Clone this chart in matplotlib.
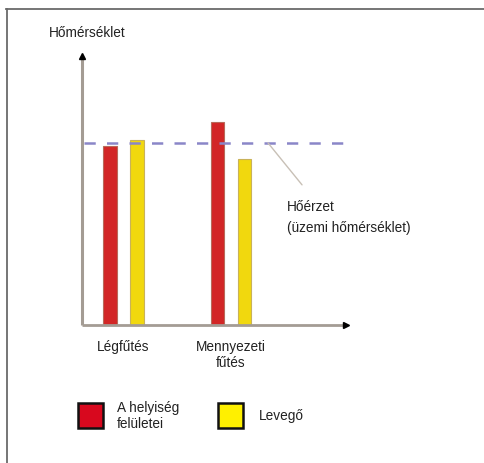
import matplotlib
matplotlib.use("Agg")
import matplotlib.pyplot as plt
from matplotlib.patches import Rectangle
from matplotlib.lines import Line2D

plt.rcParams['font.family'] = ['Liberation Sans', 'DejaVu Sans']

# Data
categories = ["Légfűtés", "Mennyezeti\nfűtés"]
surfaces = [65.6, 74.4]      # A helyiség felületei
air = [67.8, 60.8]           # Levegő
comfort_level = 66.7         # Hőérzet (üzemi hőmérséklet)
y_label = "Hőmérséklet"
series_labels = ["A helyiség\nfelületei", "Levegő"]
note_label = "Hőérzet\n(üzemi hőmérséklet)"

W, H = 484, 464
fig = plt.figure(figsize=(W / 100, H / 100), dpi=100)
fig.patch.set_facecolor("white")

def fx(px):
    return px / W

def fy(py):
    return 1 - py / H

# frame lines (top and left)
fig.add_artist(Line2D([fx(6.5), fx(6.5)], [fy(10), 0], color="#6a6a6a", lw=1.3))
fig.add_artist(Line2D([fx(6), 1], [fy(10), fy(10)], color="#6a6a6a", lw=1.3))

ax_l, ax_r, ax_t, ax_b = 82, 350, 53, 326
ax = fig.add_axes([fx(ax_l), fy(ax_b), fx(ax_r - ax_l), (ax_b - ax_t) / H])
ax.set_facecolor("none")
unit_px = 107.5
x0 = -(123.5 - ax_l) / unit_px
ax.set_xlim(x0, x0 + (ax_r - ax_l) / unit_px)
ax.set_ylim(0, 100)
for s in ax.spines.values():
    s.set_visible(False)
ax.set_yticks([])

xs = list(range(len(categories)))
bw = 0.125
off = 0.126
ax.bar([x - off for x in xs], surfaces, width=bw, color="#d22626",
       edgecolor="#b86a5a", linewidth=0.8, zorder=2)
ax.bar([x + off for x in xs], air, width=bw, color="#f1d80e",
       edgecolor="#c9b25a", linewidth=0.8, zorder=2)

# reference line
ax.axhline(comfort_level, xmin=0.006, xmax=0.988, color="#8a86c8", lw=1.8,
           dashes=(4.5, 4.5), zorder=3)

# axes with arrow heads
axis_col = "#a49c94"
ax.plot([0, 0], [0, 0.985], transform=ax.transAxes, color=axis_col, lw=2.2,
        clip_on=False, zorder=4, solid_capstyle="butt")
ax.plot([0, 0.985], [0, 0], transform=ax.transAxes, color=axis_col, lw=2.0,
        clip_on=False, zorder=4, solid_capstyle="butt")
ax.plot([0], [0.985], transform=ax.transAxes, marker="^", color="black",
        markersize=4.5, clip_on=False, zorder=5)
ax.plot([0.985], [0], transform=ax.transAxes, marker=">", color="black",
        markersize=4.5, clip_on=False, zorder=5)

ax.set_xticks(xs)
ax.set_xticklabels(categories, fontsize=9.8, color="#222222", linespacing=1.15)
ax.tick_params(axis="x", length=0, pad=10)

# leader line and note
note_x = x0 + (268 - ax_l) / unit_px
ax.annotate("", xy=(note_x, comfort_level), xytext=(24.5, -30.2),
            textcoords="offset points",
            arrowprops=dict(arrowstyle="-", color="#c8c0b6", lw=1.0,
                            shrinkA=0, shrinkB=0))
fig.text(fx(287), fy(207), note_label.split("\n")[0], fontsize=9.8,
         color="#222222", ha="left", va="center")
fig.text(fx(287), fy(228), note_label.split("\n")[1], fontsize=9.8,
         color="#222222", ha="left", va="center")

fig.text(fx(49), fy(33), y_label, fontsize=9.8, color="#222222",
         ha="left", va="center")

# legend
leg_cols = ["#d8081e", "#fff000"]
leg_x = [78, 218]
text_x = [117, 259]
for lx, tx, col, lab in zip(leg_x, text_x, leg_cols, series_labels):
    fig.add_artist(Rectangle((fx(lx), fy(429)), fx(25), 25 / H,
                             facecolor=col, edgecolor="#111111", lw=1.8))
    fig.text(fx(tx), fy(416), lab, fontsize=9.8, color="#222222",
             ha="left", va="center", linespacing=1.15)

fig.savefig("out.png", dpi=100, facecolor="white")
